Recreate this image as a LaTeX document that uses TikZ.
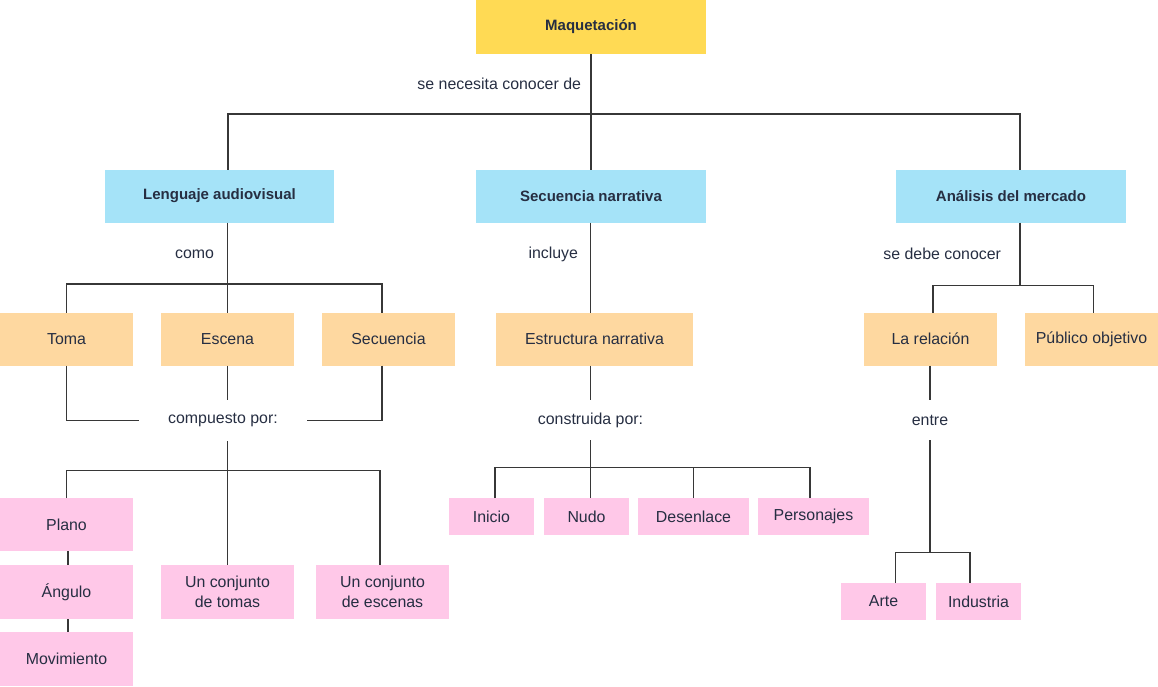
\documentclass[tikz,border=0pt]{standalone}
\usepackage{fontspec}
\setmainfont{Liberation Sans}
\definecolor{ink}{RGB}{38,46,66}
\definecolor{wire}{RGB}{55,55,55}
\definecolor{yellowc}{RGB}{255,218,84}
\definecolor{bluec}{RGB}{165,227,248}
\definecolor{orangec}{RGB}{254,216,160}
\definecolor{pinkc}{RGB}{255,200,232}
\begin{document}
\begin{tikzpicture}[x=1pt,y=-1pt,
  base/.style={inner sep=0pt, outer sep=0pt, text=ink, align=center,
    font=\fontsize{15.9}{20}\selectfont},
  headbox/.style={base, fill=yellowc, minimum width=230, minimum height=54,
    font=\fontsize{15}{18}\selectfont\bfseries},
  topicbox/.style={base, fill=bluec, minimum width=230, minimum height=53,
    font=\fontsize{15}{18}\selectfont\bfseries},
  itembox/.style={base, fill=orangec, minimum height=53},
  leafbox/.style={base, fill=pinkc},
  linklabel/.style={base},
  conn/.style={draw=wire, line width=1.25pt}]
\useasboundingbox (0,0) rectangle (1158,686);

% main concept and topics
\node[headbox] (maq) at (591,27) {Maquetación};
\node[topicbox, minimum width=229] (lang) at (219.5,196) {Lenguaje audiovisual};
\node[topicbox] (sn) at (591,196) {Secuencia narrativa};
\node[topicbox] (am) at (1011,196) {Análisis del mercado};

% second level
\node[itembox, minimum width=133] (toma) at (66.5,339) {Toma};
\node[itembox, minimum width=133] (esc) at (227.5,339) {Escena};
\node[itembox, minimum width=133] (secu) at (388.5,339) {Secuencia};
\node[itembox, minimum width=197] (est) at (594.5,339) {Estructura narrativa};
\node[itembox, minimum width=133] (rel) at (930.5,339) {La relación};
\node[itembox, minimum width=133] (pub) at (1091.5,339) {Público objetivo};

% leaves
\node[leafbox, minimum width=133, minimum height=53] (plano) at (66.5,524.5) {Plano};
\node[leafbox, minimum width=133, minimum height=54] (ang) at (66.5,592) {Ángulo};
\node[leafbox, minimum width=133, minimum height=54] (mov) at (66.5,659) {Movimiento};
\node[leafbox, minimum width=133, minimum height=54] (tomas) at (227.5,592) {Un conjunto\\de tomas};
\node[leafbox, minimum width=133, minimum height=54] (escs) at (382.5,592) {Un conjunto\\de escenas};
\node[leafbox, minimum width=85, minimum height=37] (inicio) at (491.5,516.5) {Inicio};
\node[leafbox, minimum width=85, minimum height=37] (nudo) at (586.5,516.5) {Nudo};
\node[leafbox, minimum width=111, minimum height=37] (des) at (693.5,516.5) {Desenlace};
\node[leafbox, minimum width=111, minimum height=37] (pers) at (813.5,516.5) {Personajes};
\node[leafbox, minimum width=85, minimum height=37] (arte) at (883.5,601.5) {Arte};
\node[leafbox, minimum width=85, minimum height=37] (ind) at (978.5,601.5) {Industria};

% linking phrases
\node[linklabel, anchor=east] (l0) at (581,84) {se necesita conocer de};
\node[linklabel, anchor=east] (l1) at (214,254) {como};
\node[linklabel, anchor=east] (l2) at (578,254) {incluye};
\node[linklabel, anchor=east] (l3) at (1001,254) {se debe conocer};
\node[linklabel, minimum width=168, minimum height=41] (cp) at (223,420.5) {compuesto por:};
\node[linklabel, minimum width=120, minimum height=40] (cons) at (590.5,420) {construida por:};
\node[linklabel, minimum width=60, minimum height=40] (entre) at (930,420) {entre};

% junction points
\coordinate (j0) at (591,114);
\coordinate (j1) at (228,284);
\coordinate (j2) at (228,470.5);
\coordinate (j3) at (590.5,467.5);
\coordinate (j4) at (1020,285.7);
\coordinate (j5) at (930,552.7);

% top level
\draw[conn] (maq.south) -- (sn.north);
\draw[conn] ([xshift=8.5]lang.north) |- (j0) -| ([xshift=9]am.north);

% Lenguaje audiovisual branch
\draw[conn] (esc.north |- lang.south) -- (esc.north);
\draw[conn] (toma.north) |- (j1) -| ([xshift=-6.5]secu.north);
\draw[conn] (toma.south) |- (cp.west);
\draw[conn] ([xshift=-6.5]secu.south) |- (cp.east);
\draw[conn] (esc.south) -- (esc.south |- cp.north);
\draw[conn] (tomas.north |- cp.south) -- (tomas.north);
\draw[conn] (plano.north) |- (j2) -| ([xshift=-2.5]escs.north);
\draw[conn] ([xshift=1.5]plano.south) -- ([xshift=1.5]ang.north);
\draw[conn] ([xshift=1.5]ang.south) -- ([xshift=1.5]mov.north);

% Secuencia narrativa branch
\draw[conn] (sn.south -| cons.north) -- (est.north -| cons.north);
\draw[conn] (est.south -| cons.north) -- (cons.north);
\draw[conn] (cons.south) -- (j3);
\draw[conn] ([xshift=3.5]inicio.north) |- (j3) -| ([xshift=-3.5]pers.north);
\draw[conn] (j3) -- (j3 |- nudo.north);
\draw[conn] (des.north) -- (des.north |- j3);

% Análisis del mercado branch
\draw[conn] ([xshift=9]am.south) -- (j4);
\draw[conn] ([xshift=2.5]rel.north) |- (j4) -| ([xshift=2]pub.north);
\draw[conn] (rel.south -| entre.north) -- (entre.north);
\draw[conn] (entre.south) -- (j5);
\draw[conn] ([xshift=12]arte.north) |- (j5) -| ([xshift=-8.5]ind.north);
\end{tikzpicture}
\end{document}
